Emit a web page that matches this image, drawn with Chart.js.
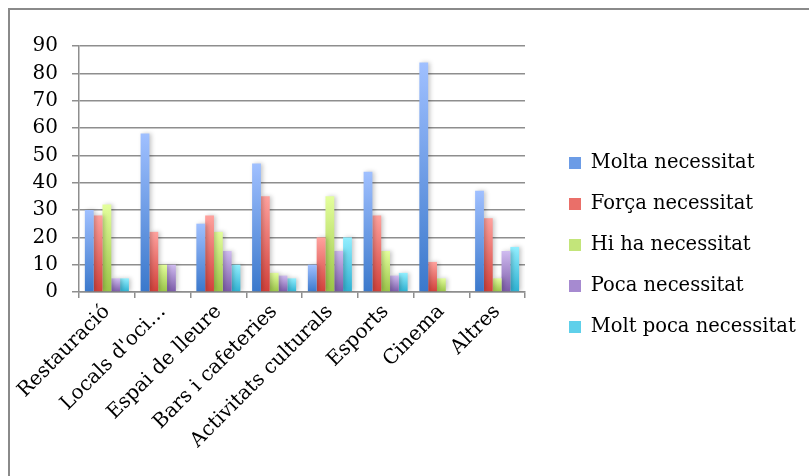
<!DOCTYPE html>
<html lang="ca">
<head>
    <meta charset="UTF-8">
    <title>Necessitat per tipus d'establiment</title>
    <script src="https://cdn.jsdelivr.net/npm/chart.js"></script>
    <style>
        body { margin: 0; background: #fff; overflow: hidden; }
        #frame { position: absolute; left: 8px; top: 8px; width: 900px; height: 600px; border-left: 2px solid #8a8a8a; border-top: 2px solid #8a8a8a; }
        #wrap { position: absolute; left: 0; top: 0; width: 809px; height: 476px; }
    </style>
</head>
<body>
    <div id="frame"></div>
    <div id="wrap"><canvas id="chart"></canvas></div>

    <script>
        // categories (eix X)
        const categories = ['Restauració', "Locals d'oci…", 'Espai de lleure', 'Bars i cafeteries',
                            'Activitats culturals', 'Esports', 'Cinema', 'Altres'];

        // valors de cada serie
        const moltaNecessitat    = [30, 58, 25, 47, 10, 44, 84, 37];
        const forcaNecessitat    = [28, 22, 28, 35, 20, 28, 11, 27];
        const hiHaNecessitat     = [32, 10, 22, 7, 35, 15, 5, 5];
        const pocaNecessitat     = [5, 10, 15, 6, 15, 6, 0, 15];
        const moltPocaNecessitat = [5, 0, 10, 5, 20, 7, 0, 16.5];

        const yTicks = [0, 10, 20, 30, 40, 50, 60, 70, 80, 90];

        // degradat vertical per barra (clar a dalt, fosc a baix)
        function grad(top, bottom) {
            return function(ctx) {
                const chart = ctx.chart;
                if (!chart.chartArea || ctx.type !== 'data') return bottom;
                const y = chart.scales.y;
                const y1 = y.getPixelForValue(ctx.raw);
                const y0 = y.getPixelForValue(0);
                if (!isFinite(y1) || y1 >= y0) return bottom;
                const g = chart.ctx.createLinearGradient(0, y1, 0, y0);
                g.addColorStop(0, top);
                g.addColorStop(1, bottom);
                return g;
            };
        }

        const series = [
            { label: 'Molta necessitat', data: moltaNecessitat, top: '#a0c0ff', bottom: '#3a78cb', mid: '#6c9ce6' },
            { label: 'Força necessitat', data: forcaNecessitat, top: '#ffa29e', bottom: '#d2403a', mid: '#ea6f69' },
            { label: 'Hi ha necessitat', data: hiHaNecessitat, top: '#e4ff9c', bottom: '#9ac447', mid: '#c3e57a' },
            { label: 'Poca necessitat', data: pocaNecessitat, top: '#d0bcf0', bottom: '#7b5aa8', mid: '#a68ad0' },
            { label: 'Molt poca necessitat', data: moltPocaNecessitat, top: '#92efff', bottom: '#2eb1d2', mid: '#5fd0ea' }
        ];

        const font = { family: 'DejaVu Serif', size: 20 };
        const legendFont = { family: 'DejaVu Serif', size: 19.5 };
        const legendPad = 21.5;
        const gridColor = '#8e8e8e';

        // amplada de la llegenda per deixar-la on toca
        const mctx = document.createElement('canvas').getContext('2d');
        mctx.font = legendFont.size + 'px "DejaVu Serif"';
        const maxText = Math.max(...series.map(s => mctx.measureText(s.label).width));
        const legendLeft = 569 - legendPad;
        const padRight = Math.max(0, 809 - legendLeft - (legendPad + 12 + legendFont.size / 2 + maxText + 10));

        // ombra suau a la dreta de les barres
        const barShadow = {
            id: 'barShadow',
            beforeDatasetsDraw(chart) {
                const c = chart.ctx;
                c.save();
                c.shadowColor = 'rgba(0,0,0,0.22)';
                c.shadowBlur = 4;
                c.shadowOffsetX = 2;
                c.shadowOffsetY = 0;
            },
            afterDatasetsDraw(chart) {
                chart.ctx.restore();
            }
        };

        new Chart(document.getElementById('chart'), {
            type: 'bar',
            data: {
                labels: categories,
                datasets: series.map(s => ({
                    label: s.label,
                    data: s.data,
                    backgroundColor: grad(s.top, s.bottom),
                    borderWidth: 0,
                    categoryPercentage: 0.79,
                    barPercentage: 1
                }))
            },
            plugins: [barShadow],
            options: {
                responsive: true,
                maintainAspectRatio: false,
                animation: false,
                layout: { padding: { left: 33, top: 14, right: padRight, bottom: 0 } },
                plugins: {
                    tooltip: { enabled: false },
                    legend: {
                        position: 'right',
                        maxWidth: 400,
                        labels: {
                            color: '#000',
                            font: legendFont,
                            boxWidth: 12,
                            boxHeight: 12,
                            padding: legendPad,
                            generateLabels: function(chart) {
                                const items = Chart.defaults.plugins.legend.labels.generateLabels(chart);
                                items.forEach((it, i) => {
                                    it.fillStyle = series[i].mid;
                                    it.strokeStyle = series[i].mid;
                                    it.lineWidth = 0;
                                });
                                return items;
                            }
                        }
                    }
                },
                scales: {
                    x: {
                        offset: true,
                        afterFit: axis => { axis.height = 184; },
                        grid: { drawOnChartArea: false, drawTicks: true, tickLength: 6, color: gridColor, lineWidth: 1.5, offset: true },
                        border: { display: true, color: gridColor, width: 1.5 },
                        ticks: { color: '#000', font: font, minRotation: 45, maxRotation: 45, autoSkip: false, padding: 2 }
                    },
                    y: {
                        min: 0,
                        max: 90,
                        afterFit: axis => { axis.width = 46; },
                        afterBuildTicks: axis => { axis.ticks = yTicks.map(v => ({ value: v })); },
                        grid: { color: gridColor, lineWidth: 1.5, tickLength: 7 },
                        border: { display: true, color: gridColor, width: 1.5 },
                        ticks: { color: '#000', font: font, padding: 14 }
                    },
                    // eixos buits: espai damunt del gràfic i abans de la llegenda
                    gapTop: {
                        position: 'top',
                        display: true,
                        afterFit: axis => { axis.height = 32; },
                        grid: { display: false },
                        border: { display: false },
                        ticks: { display: false }
                    },
                    gapRight: {
                        position: 'right',
                        display: true,
                        afterFit: axis => { axis.width = legendLeft - 525; },
                        grid: { display: false },
                        border: { display: false },
                        ticks: { display: false }
                    }
                }
            }
        });
    </script>
</body>
</html>
